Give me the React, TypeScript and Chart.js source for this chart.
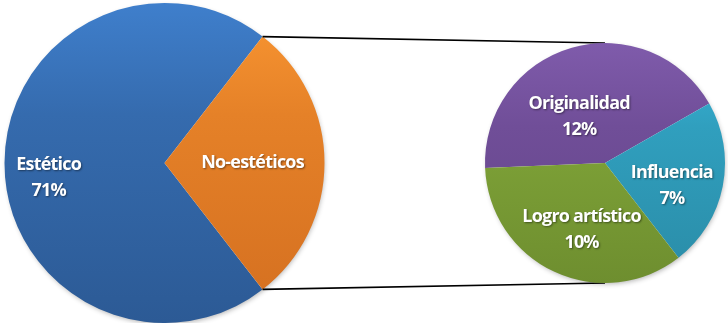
import React, { useEffect, useRef } from "react";
import { Chart, registerables } from "chart.js";

Chart.register(...registerables);

// ---- data ----
const mainLabels = ["Estético", "No-estéticos"];
const subLabels = ["Originalidad", "Influencia", "Logro artístico"];
const subValues = [12.3, 6.6, 10.1];
const esteticoValue = 71;
const mainValues = [esteticoValue, subValues.reduce((a, b) => a + b, 0)];
const showPercent = [true, false];
const subShowPercent = [true, true, true];

// ---- styles ----
const mainColors: [string, string][] = [
  ["#3F7FCC", "#2C5A95"],
  ["#FA9732", "#D46F20"],
];
const subColors: [string, string][] = [
  ["#7F5BAB", "#634488"],
  ["#38B7DB", "#2A8CA7"],
  ["#93BC44", "#6E8E2F"],
];
// label placement: [radius fraction, angle offset from slice middle in degrees]
const mainLabelPlace: [number, number][] = [
  [0.73, -7.4],
  [0.55, 0],
];
const subLabelPlace: [number, number][] = [
  [0.44, -13.3],
  [0.59, 8],
  [0.59, -5.6],
];

const FONT = "bold 18px 'Open Sans', Lato, sans-serif";
const W = 728;
const H = 323;

function gradientBg(colors: [string, string][]) {
  return (c: any) => {
    const chart = c.chart;
    const area = chart.chartArea;
    const [a, b] = colors[c.dataIndex % colors.length];
    if (!area) return a;
    const g = chart.ctx.createLinearGradient(0, area.top, 0, area.bottom);
    g.addColorStop(0, a);
    g.addColorStop(0.35, mix(a, b, 0.55));
    g.addColorStop(1, b);
    return g;
  };
}

function hex(c: string) {
  const n = parseInt(c.slice(1), 16);
  return [(n >> 16) & 255, (n >> 8) & 255, n & 255];
}
function mix(a: string, b: string, t: number) {
  const x = hex(a), y = hex(b);
  const r = x.map((v, i) => Math.round(v + (y[i] - v) * t));
  return `rgb(${r[0]},${r[1]},${r[2]})`;
}

const grandTotal = mainValues.reduce((a, b) => a + b, 0);

function makeLabelPlugin(
  names: string[],
  values: number[],
  showPct: boolean[],
  place: [number, number][]
) {
  return {
    id: "sliceLabels",
    afterDatasetsDraw(chart: any) {
      const ctx = chart.ctx;
      const meta = chart.getDatasetMeta(0);
      ctx.save();
      ctx.font = FONT;
      try { (ctx as any).letterSpacing = "-0.8px"; } catch (e) {}
      ctx.fillStyle = "#ffffff";
      ctx.textAlign = "center";
      ctx.textBaseline = "middle";
      ctx.shadowColor = "rgba(0,0,0,0.45)";
      ctx.shadowBlur = 2;
      ctx.shadowOffsetX = 1;
      ctx.shadowOffsetY = 1;
      meta.data.forEach((arc: any, i: number) => {
        const p = arc.getProps(["x", "y", "startAngle", "endAngle", "outerRadius"], true);
        const [frac, off] = place[i];
        const ang = (p.startAngle + p.endAngle) / 2 + (off * Math.PI) / 180;
        const cx = p.x + Math.cos(ang) * p.outerRadius * frac;
        const cy = p.y + Math.sin(ang) * p.outerRadius * frac;
        const lines = [names[i]];
        if (showPct[i]) lines.push(Math.round((values[i] / grandTotal) * 100) + "%");
        const lh = 26;
        lines.forEach((t, k) => {
          ctx.fillText(t, cx, cy + (k - (lines.length - 1) / 2) * lh);
        });
      });
      ctx.restore();
    },
  };
}

const shadowPlugin = {
  id: "pieShadow",
  beforeDatasetsDraw(chart: any) {
    const meta = chart.getDatasetMeta(0);
    const arc = meta.data[0];
    if (!arc) return;
    const p = arc.getProps(["x", "y", "outerRadius"], true);
    const ctx = chart.ctx;
    ctx.save();
    ctx.shadowColor = "rgba(0,0,0,0.3)";
    ctx.shadowBlur = 5;
    ctx.shadowOffsetX = 1;
    ctx.shadowOffsetY = 2;
    ctx.fillStyle = "#ffffff";
    ctx.beginPath();
    ctx.arc(p.x, p.y, p.outerRadius - 1, 0, Math.PI * 2);
    ctx.fill();
    ctx.restore();
  },
};

export default function App() {
  const leftRef = useRef<HTMLCanvasElement>(null);
  const rightRef = useRef<HTMLCanvasElement>(null);

  useEffect(() => {
    document.body.style.margin = "0";
    const othersShare = mainValues[1] / grandTotal;
    const left = new Chart(leftRef.current!, {
      type: "pie",
      data: {
        labels: mainLabels,
        datasets: [
          {
            data: mainValues,
            backgroundColor: gradientBg(mainColors) as any,
            borderWidth: 0,
          },
        ],
      },
      options: {
        responsive: false,
        animation: false,
        devicePixelRatio: 1,
        rotation: 90 + othersShare * 180,
        layout: { padding: { left: 4, right: 403, top: 3, bottom: 0 } },
        plugins: { legend: { display: false }, tooltip: { enabled: false } },
      },
      plugins: [shadowPlugin, makeLabelPlugin(mainLabels, mainValues, showPercent, mainLabelPlace)],
    });

    const connector = {
      id: "connector",
      beforeDatasetsDraw(chart: any) {
        const src = left.getDatasetMeta(0).data[1] as any;
        const dst = chart.getDatasetMeta(0).data[0] as any;
        if (!src || !dst) return;
        const s = src.getProps(["x", "y", "startAngle", "endAngle", "outerRadius"], true);
        const d = dst.getProps(["x", "y", "outerRadius"], true);
        const ctx = chart.ctx;
        ctx.save();
        ctx.strokeStyle = "#000000";
        ctx.lineWidth = 1.6;
        ctx.beginPath();
        ctx.moveTo(s.x + Math.cos(s.startAngle) * s.outerRadius, s.y + Math.sin(s.startAngle) * s.outerRadius);
        ctx.lineTo(d.x, d.y - d.outerRadius);
        ctx.moveTo(s.x + Math.cos(s.endAngle) * s.outerRadius, s.y + Math.sin(s.endAngle) * s.outerRadius);
        ctx.lineTo(d.x, d.y + d.outerRadius);
        ctx.stroke();
        ctx.restore();
      },
    };

    const right = new Chart(rightRef.current!, {
      type: "pie",
      data: {
        labels: subLabels,
        datasets: [
          {
            data: subValues,
            backgroundColor: gradientBg(subColors) as any,
            borderWidth: 0,
          },
        ],
      },
      options: {
        responsive: false,
        animation: false,
        devicePixelRatio: 1,
        rotation: 267.6,
        layout: { padding: { left: 485, right: 3, top: 43, bottom: 40 } },
        plugins: { legend: { display: false }, tooltip: { enabled: false } },
      },
      plugins: [connector, shadowPlugin, makeLabelPlugin(subLabels, subValues, subShowPercent, subLabelPlace)],
    });

    return () => {
      right.destroy();
      left.destroy();
    };
  }, []);

  return (
    <div style={{ position: "fixed", left: 0, top: 0, width: W, height: H, background: "#ffffff" }}>
      <canvas ref={leftRef} width={W} height={H} style={{ position: "absolute", left: 0, top: 0, width: W, height: H }} />
      <canvas ref={rightRef} width={W} height={H} style={{ position: "absolute", left: 0, top: 0, width: W, height: H }} />
    </div>
  );
}
